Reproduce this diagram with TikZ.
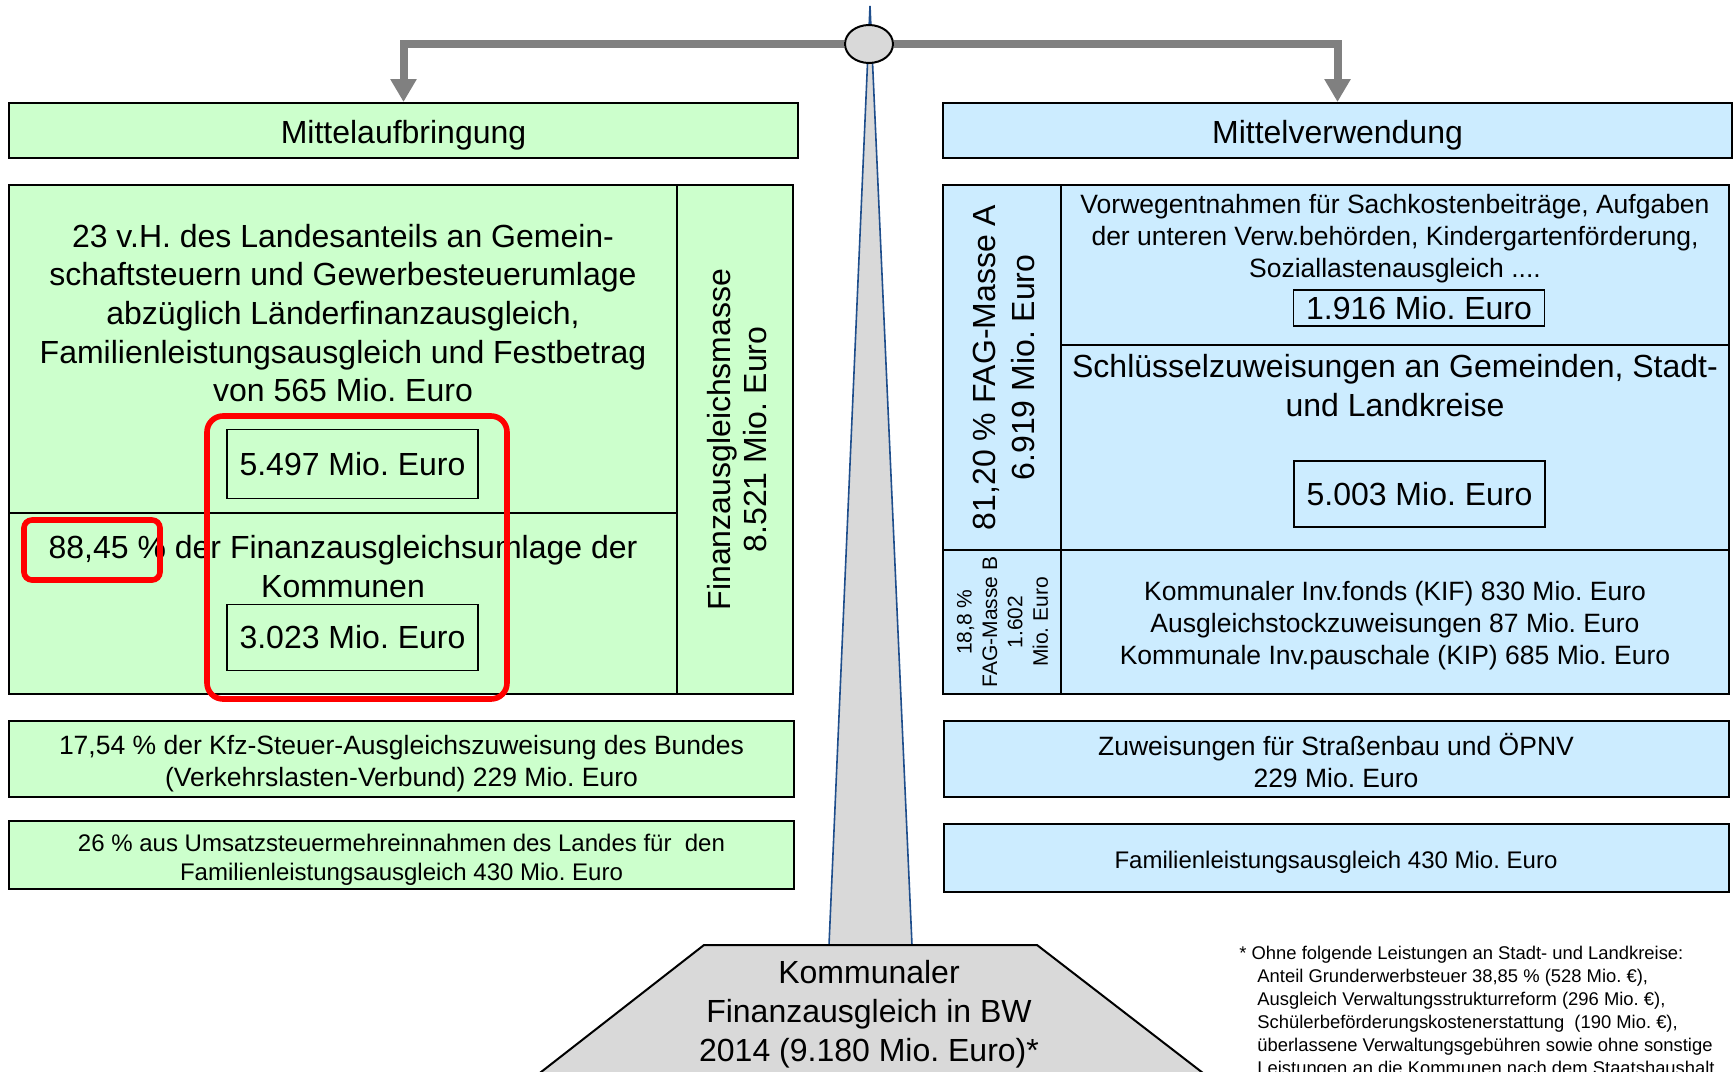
\documentclass[tikz,border=0pt]{standalone}
\usepackage{fontspec}
\setmainfont{Liberation Sans}
\usetikzlibrary{arrows.meta, positioning, calc, shapes.geometric}

\definecolor{fagGreen}{HTML}{CCFFCC}
\definecolor{fagBlue}{HTML}{CCECFF}
\definecolor{pillarGray}{HTML}{D9D9D9}
\definecolor{beamGray}{HTML}{808080}
\definecolor{pillarBlue}{HTML}{1F4E8C}

\begin{document}
\frenchspacing
\begin{tikzpicture}[x=0.5pt, y=-0.5pt, line join=miter]
	
	%======================
	% FONT SIZES
	%======================
	\def\fsBig{\fontsize{16}{19.3}\selectfont}
	\def\fsMid{\fontsize{13.25}{16}\selectfont}
	\def\fsSmall{\fontsize{12}{14.4}\selectfont}
	\def\fsTiny{\fontsize{10.5}{12.7}\selectfont}
	\def\fsNote{\fontsize{9.2}{11.5}\selectfont}
	
	% Styles
	\tikzset{
		boxline/.style={draw=black, line width=1pt},
		gfill/.style={boxline, fill=fagGreen},
		bfill/.style={boxline, fill=fagBlue},
		headbox/.style={inner sep=0pt, minimum width=394.5pt, minimum height=27.5pt},
		rowbox/.style={inner sep=0pt, minimum width=392.5pt},
		valbox/.style={draw=black, line width=0.8pt, inner sep=0pt, minimum width=125.5pt, font=\fsBig},
		divider/.style={draw=black, line width=0.8pt},
		txt/.style={align=center, inner sep=0pt},
		hilite/.style={draw=red, line width=2.8pt},
		beam/.style={draw=beamGray, line width=4pt, -{Triangle[width=12.5pt, length=11.5pt]}}
	}
	
	\useasboundingbox (0,0) rectangle (1734,1071);
	\clip (0,0) rectangle (1734,1071);
	
	%======================
	% SCALE: pillar, pivot, beam
	%======================
	\draw[draw=pillarBlue, fill=pillarGray, line width=0.8pt] (870,6) -- (912,945) -- (829,945) -- cycle;
	\node[draw=black, line width=1pt, ellipse, fill=pillarGray, inner sep=0pt,
		minimum width=24pt, minimum height=19pt] (pivot) at (869,44) {};
	
	\node[gfill, headbox] (aufbr) at (403.5,130.5) {};
	\node[txt, font=\fsBig] (aufbrText) at (403.5,135) {Mittelaufbringung};
	\node[bfill, headbox] (verw) at (1337.5,130.5) {};
	\node[txt, font=\fsBig] (verwText) at (1337.5,135) {Mittelverwendung};
	
	\draw[beam] (pivot.west) -| (aufbr.north);
	\draw[beam] (pivot.east) -| (verw.north);
	
	% base of the scale
	\draw[fill=pillarGray, line width=1pt] (518,1090) -- (704,945) -- (1037,945) -- (1225,1090) -- cycle;
	\node[txt, font=\fontsize{16}{19.5}\selectfont] (basis) at (869,1014)
		{Kommunaler\\Finanzausgleich in BW\\2014 (9.180 Mio. Euro)*};
	
	%======================
	% LEFT: Mittelaufbringung
	%======================
	\draw[gfill] (9,185) rectangle (793,694);
	\draw[divider] (677,185) -- (677,694);
	\draw[divider] (9,513) -- (677,513);
	
	\node[txt, font=\fsBig] (landes) at (343,313)
		{23 v.H. des Landesanteils an Gemein-\\schaftsteuern und Gewerbesteuerumlage\\abzüglich Länderfinanzausgleich,\\Familienleistungsausgleich und Festbetrag\\von 565 Mio. Euro};
	\node[valbox, minimum height=34.5pt] (wert1) at (352.5,464) {5.497 Mio. Euro};
	
	\node[txt, font=\fsBig] (umlage) at (343,566.5)
		{88,45 \% der Finanzausgleichsumlage der\\Kommunen};
	\node[valbox, minimum height=33pt] (wert2) at (352.5,637.5) {3.023 Mio. Euro};
	
	\node[txt, rotate=90, font=\fontsize{16}{18}\selectfont] (masse) at (737,439.5)
		{Finanzausgleichsmasse\\8.521 Mio. Euro};
	
	\node[gfill, rowbox, minimum height=38pt] (kfz) at (401.5,759) {};
	\node[txt, font=\fsMid] (kfzText) at (401.5,763.5)
		{17,54 \% der Kfz-Steuer-Ausgleichszuweisung des Bundes\\(Verkehrslasten-Verbund) 229 Mio. Euro};
	\node[gfill, rowbox, minimum height=34pt] (ust) at (401.5,855) {};
	\node[txt, font=\fsSmall] (ustText) at (401.5,859.5)
		{26 \% aus Umsatzsteuermehreinnahmen des Landes für\ \ den\\Familienleistungsausgleich 430 Mio. Euro};
	
	% red highlights
	\draw[hilite, rounded corners=8pt] (207,416) rectangle (507,699);
	\draw[hilite, rounded corners=4pt] (24,520) rectangle (160,580);
	
	%======================
	% RIGHT: Mittelverwendung
	%======================
	\draw[bfill] (943,185) rectangle (1729,694);
	\draw[divider] (1061,185) -- (1061,694);
	\draw[divider] (1061,345) -- (1729,345);
	\draw[divider] (943,550) -- (1729,550);
	
	\node[txt, font=\fsMid] (vorweg) at (1395,239)
		{Vorwegentnahmen für Sachkostenbeiträge, Aufgaben\\der unteren Verw.behörden, Kindergartenförderung,\\Soziallastenausgleich ....};
	\node[valbox, minimum height=18pt] (wert3) at (1419,308) {1.916 Mio. Euro};
	
	\node[txt, font=\fontsize{16}{19.5}\selectfont] (schluessel) at (1395,385.5)
		{Schlüsselzuweisungen an Gemeinden, Stadt-\\und Landkreise};
	\node[valbox, minimum height=33pt] (wert4) at (1419.5,494) {5.003 Mio. Euro};
	
	\node[txt, rotate=90, font=\fontsize{16}{19.5}\selectfont] (masseA) at (1003.5,367.5)
		{81,20 \% FAG-Masse A\\6.919 Mio. Euro};
	\node[txt, rotate=90, font=\fsTiny] (masseB) at (1002.5,622)
		{18,8 \%\\FAG-Masse B\\1.602\\Mio. Euro};
	
	\node[txt, font=\fsMid] (kif) at (1395,626)
		{Kommunaler Inv.fonds (KIF) 830 Mio. Euro\\Ausgleichstockzuweisungen 87 Mio. Euro\\Kommunale Inv.pauschale (KIP) 685 Mio. Euro};
	
	\node[bfill, rowbox, minimum height=38pt] (strasse) at (1336,759) {};
	\node[txt, font=\fsMid] (strasseText) at (1336,760.5)
		{Zuweisungen für Straßenbau und ÖPNV\\229 Mio. Euro};
	\node[bfill, rowbox, minimum height=34pt] (famil) at (1336,858) {};
	\node[txt, font=\fsSmall] (familText) at (1336,862.5)
		{Familienleistungsausgleich 430 Mio. Euro};
	
	%======================
	% FOOTNOTE
	%======================
	\node[anchor=north west, align=left, inner sep=0pt, font=\fsNote] (fussnote) at (1239,946)
		{* Ohne folgende Leistungen an Stadt- und Landkreise:\\
		\hspace*{9pt}Anteil Grunderwerbsteuer 38,85 \% (528 Mio. €),\\
		\hspace*{9pt}Ausgleich Verwaltungsstrukturreform (296 Mio. €),\\
		\hspace*{9pt}Schülerbeförderungskostenerstattung\ \ (190 Mio. €),\\
		\hspace*{9pt}überlassene Verwaltungsgebühren sowie ohne sonstige\\
		\hspace*{9pt}Leistungen an die Kommunen nach dem Staatshaushalt.};
\end{tikzpicture}
\end{document}
